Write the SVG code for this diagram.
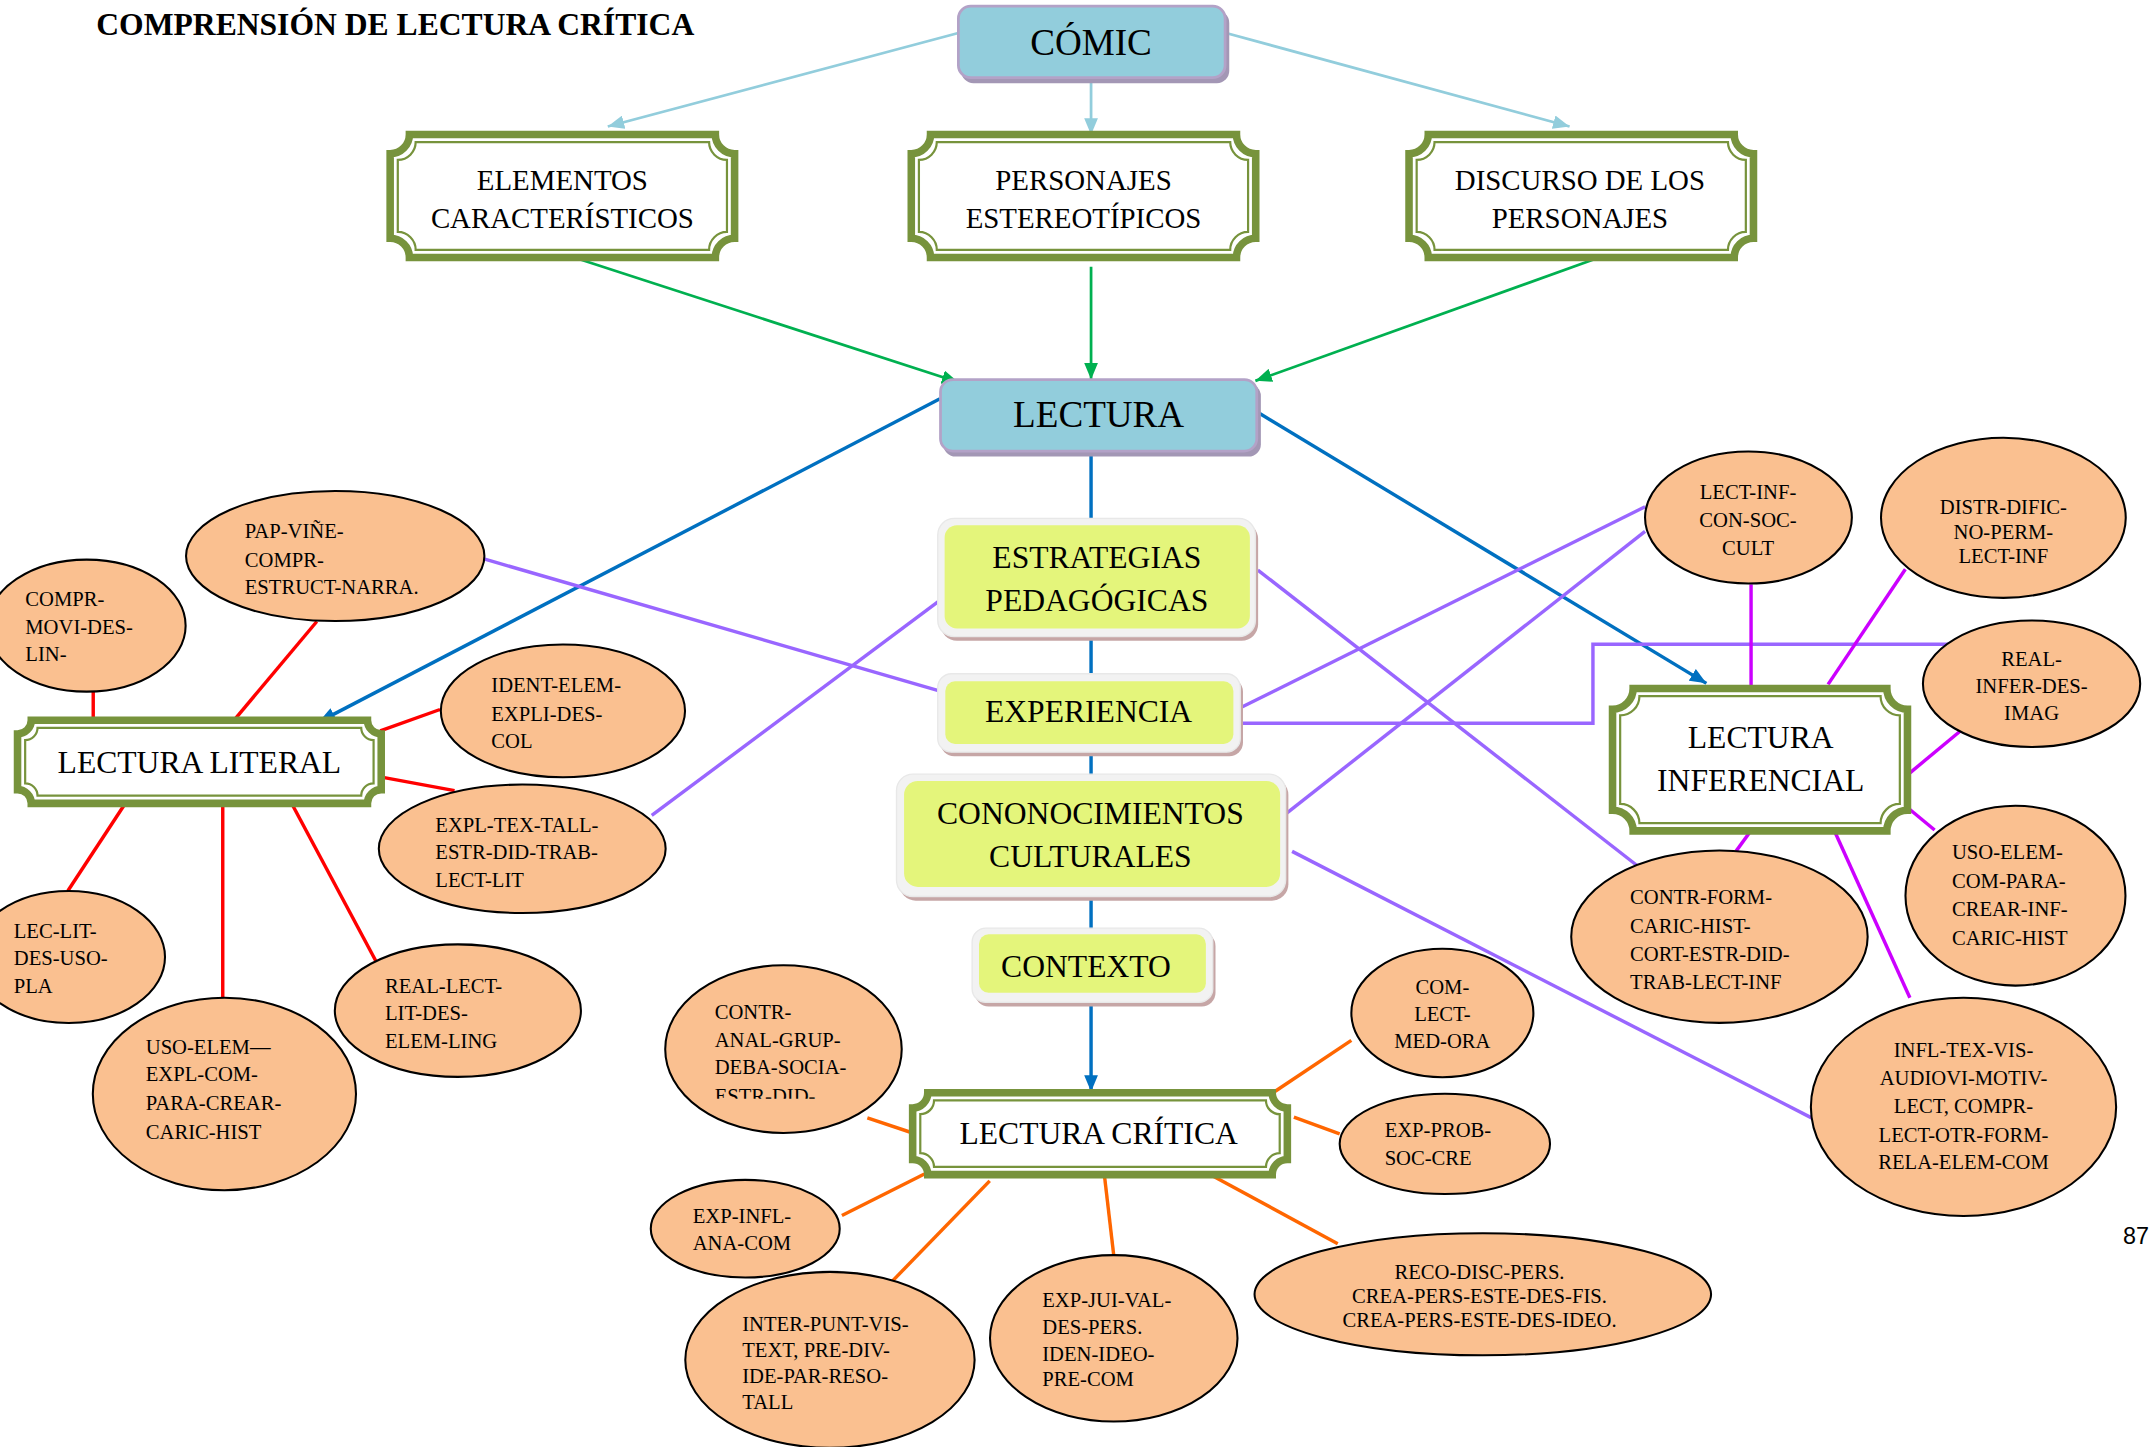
<svg xmlns="http://www.w3.org/2000/svg" width="2156" height="1447" viewBox="0 0 2156 1447">
<defs>
<style>
.t{font-family:"Liberation Serif","Times New Roman",serif;fill:#000}
.e{font-size:15px}
.m{text-anchor:middle}
.f27{font-size:27px}
.f21{font-size:21px}
.f23{font-size:23px}
.ell{fill:#FAC090;stroke:#000;stroke-width:1.5}
.band{fill:#fff;stroke:#77933C;stroke-width:5.5}
.thin{fill:none;stroke:#77933C;stroke-width:1.6}
.bbox{fill:#92CDDC;stroke:#B3A2C7;stroke-width:2}
.bsh{fill:#A397B5}
.ysh{fill:#C6A6A6}
.yrim{fill:#F2F2F2;stroke:#E8E8E8;stroke-width:1}
.yin{fill:#E4F57B}
.c{fill:none;stroke-width:2.5}
.lb{stroke:#92CDDC;stroke-width:2}
.gr{stroke:#00B050;stroke-width:2}
.bl{stroke:#0070C0}
.rd{stroke:#FF0000}
.pu{stroke:#9966FF}
.mg{stroke:#CC00FF}
.or{stroke:#FF6600}
</style>
<marker id="aLB" markerWidth="12" markerHeight="10" refX="12" refY="5" orient="auto" markerUnits="userSpaceOnUse"><path d="M0,0 L12,5 L0,10 z" fill="#92CDDC"/></marker>
<marker id="aG" markerWidth="12" markerHeight="10" refX="12" refY="5" orient="auto" markerUnits="userSpaceOnUse"><path d="M0,0 L12,5 L0,10 z" fill="#00B050"/></marker>
<marker id="aB" markerWidth="12" markerHeight="10" refX="12" refY="5" orient="auto" markerUnits="userSpaceOnUse"><path d="M0,0 L12,5 L0,10 z" fill="#0070C0"/></marker>
<clipPath id="clipCA"><rect x="480" y="700" width="180" height="99"/></clipPath>
</defs>
<rect x="0" y="0" width="2156" height="1447" fill="#fff"/>
<g transform="scale(1.375)">
<text class="t" x="70" y="25.5" font-size="23" font-weight="bold">COMPRENSIÓN DE LECTURA CRÍTICA</text>

<g id="connectors">
<path class="c lb" d="M697,24 L442,92" marker-end="url(#aLB)"/>
<path class="c lb" d="M793.5,58 L793.5,98" marker-end="url(#aLB)"/>
<path class="c lb" d="M891.6,24 L1141.5,92" marker-end="url(#aLB)"/>
<path class="c gr" d="M412,185.5 L697,278" marker-end="url(#aG)"/>
<path class="c gr" d="M793.5,194 L793.5,276" marker-end="url(#aG)"/>
<path class="c gr" d="M1168,185.5 L913,277" marker-end="url(#aG)"/>
<path class="c bl" d="M683.6,290 L232,525" marker-end="url(#aB)"/>
<path class="c bl" d="M915,300 L1241,497" marker-end="url(#aB)"/>
<path class="c bl" d="M793.5,328 V378"/>
<path class="c bl" d="M793.5,465 V493"/>
<path class="c bl" d="M793.5,547 V571"/>
<path class="c bl" d="M793.5,652 V677"/>
<path class="c bl" d="M793.5,728 V794" marker-end="url(#aB)"/>
<path class="c rd" d="M67.8,503 V529"/>
<path class="c rd" d="M230.4,452 L168.6,525.7"/>
<path class="c rd" d="M320,516 L276.5,531.6"/>
<path class="c rd" d="M330.6,575 L276.5,565"/>
<path class="c rd" d="M90,586 L49.4,647.8"/>
<path class="c rd" d="M162,586 V725.6"/>
<path class="c rd" d="M213,586 L275,702"/>
<path class="c pu" d="M352,406.5 L685,503"/>
<path class="c pu" d="M474,593 L685,435.6"/>
<path class="c pu" d="M914.8,414.6 L1196.4,634"/>
<path class="c pu" d="M901,515.3 L1196.4,368.6"/>
<path class="c pu" d="M901,526 H1158.5 V468.6 H1418"/>
<path class="c pu" d="M933.5,593.2 L1196.4,386.5"/>
<path class="c pu" d="M939.7,619.2 L1317.5,813"/>
<path class="c mg" d="M1273.5,425 V501.5"/>
<path class="c mg" d="M1385.7,414 L1329.5,497.7"/>
<path class="c mg" d="M1427.7,530 L1386,564.6"/>
<path class="c mg" d="M1385.7,586 L1407,603.6"/>
<path class="c mg" d="M1273.5,604 L1262.6,619"/>
<path class="c mg" d="M1334,604 L1389,725.6"/>
<path class="c or" d="M630.8,813 L663.8,824"/>
<path class="c or" d="M612.3,884 L672.3,853.8"/>
<path class="c or" d="M645.8,935 L719.8,858.8"/>
<path class="c or" d="M810,913 L803,853"/>
<path class="c or" d="M972.9,904.5 L877,852.5"/>
<path class="c or" d="M982.8,756.6 L925,795.3"/>
<path class="c or" d="M974.3,824.6 L941,812.4"/>
</g>

<g id="n-comic">
<rect class="bsh" x="699" y="7.5" width="195" height="53" rx="9"/>
<rect class="bbox" x="697" y="4.5" width="194" height="52" rx="9"/>
<text class="t m f27" x="793.5" y="40">CÓMIC</text>
</g>

<g id="n-elementos">
<path class="band" d="M297.75,97.75 h222.5 a14,14 0 0 0 14,14 v61.5 a14,14 0 0 0 -14,14 h-222.5 a14,14 0 0 0 -14,-14 v-61.5 a14,14 0 0 0 14,-14 z"/>
<path class="thin" d="M302.3,103.3 h213.4 a13,13 0 0 0 13,13 v52.4 a13,13 0 0 0 -13,13 h-213.4 a13,13 0 0 0 -13,-13 v-52.4 a13,13 0 0 0 13,-13 z"/>
<text class="t m f21" x="409" y="138.2">ELEMENTOS</text>
<text class="t m f21" x="409" y="165.6">CARACTERÍSTICOS</text>
</g>

<g id="n-personajes">
<path class="band" d="M676.75,97.75 h222.5 a14,14 0 0 0 14,14 v61.5 a14,14 0 0 0 -14,14 h-222.5 a14,14 0 0 0 -14,-14 v-61.5 a14,14 0 0 0 14,-14 z"/>
<path class="thin" d="M681.3,103.3 h213.4 a13,13 0 0 0 13,13 v52.4 a13,13 0 0 0 -13,13 h-213.4 a13,13 0 0 0 -13,-13 v-52.4 a13,13 0 0 0 13,-13 z"/>
<text class="t m f21" x="788" y="138.2">PERSONAJES</text>
<text class="t m f21" x="788" y="165.6">ESTEREOTÍPICOS</text>
</g>

<g id="n-discurso">
<path class="band" d="M1038.75,97.75 h222.5 a14,14 0 0 0 14,14 v61.5 a14,14 0 0 0 -14,14 h-222.5 a14,14 0 0 0 -14,-14 v-61.5 a14,14 0 0 0 14,-14 z"/>
<path class="thin" d="M1043.3,103.3 h213.4 a13,13 0 0 0 13,13 v52.4 a13,13 0 0 0 -13,13 h-213.4 a13,13 0 0 0 -13,-13 v-52.4 a13,13 0 0 0 13,-13 z"/>
<text class="t m f21" x="1149" y="138.2">DISCURSO DE LOS</text>
<text class="t m f21" x="1149" y="165.6">PERSONAJES</text>
</g>

<g id="n-lectura">
<rect class="bsh" x="686" y="279" width="231" height="53" rx="9"/>
<rect class="bbox" x="684" y="276" width="230" height="52" rx="9"/>
<text class="t m f27" x="799" y="310.3">LECTURA</text>
</g>

<g id="n-estrategias">
<rect class="ysh" x="684" y="380" width="231" height="86" rx="12"/>
<rect class="yrim" x="682" y="377" width="231" height="86" rx="12"/>
<rect class="yin" x="687" y="382" width="222" height="75" rx="9"/>
<text class="t m f23" x="797.7" y="413">ESTRATEGIAS</text>
<text class="t m f23" x="797.7" y="444.2">PEDAGÓGICAS</text>
</g>

<g id="n-experiencia">
<rect class="ysh" x="684" y="493" width="220" height="57" rx="10"/>
<rect class="yrim" x="682" y="490" width="220" height="57" rx="10"/>
<rect class="yin" x="687.5" y="495.5" width="209.5" height="45.5" rx="7"/>
<text class="t m f23" x="791.7" y="525.1">EXPERIENCIA</text>
</g>

<g id="n-conocimientos">
<rect class="ysh" x="654" y="566" width="283" height="89" rx="12"/>
<rect class="yrim" x="652" y="563" width="283" height="89" rx="12"/>
<rect class="yin" x="657.5" y="568" width="273.5" height="77" rx="10"/>
<text class="t m f23" x="793" y="599.3">CONONOCIMIENTOS</text>
<text class="t m f23" x="793" y="630.4">CULTURALES</text>
</g>

<g id="n-contexto">
<rect class="ysh" x="709" y="678" width="175" height="54" rx="10"/>
<rect class="yrim" x="707" y="675" width="175" height="54" rx="10"/>
<rect class="yin" x="712" y="679.5" width="165" height="42.5" rx="7"/>
<text class="t m f23" x="789.8" y="710.4">CONTEXTO</text>
</g>

<g id="n-literal">
<path class="band" d="M22.75,523.75 h244.5 a10,10 0 0 0 10,10 v40.5 a10,10 0 0 0 -10,10 h-244.5 a10,10 0 0 0 -10,-10 v-40.5 a10,10 0 0 0 10,-10 z"/>
<path class="thin" d="M27.3,529.3 h235.4 a9,9 0 0 0 9,9 v31.4 a9,9 0 0 0 -9,9 h-235.4 a9,9 0 0 0 -9,-9 v-31.4 a9,9 0 0 0 9,-9 z"/>
<text class="t m f23" x="145" y="562.1">LECTURA LITERAL</text>
</g>

<g id="n-inferencial">
<path class="band" d="M1187.75,500.75 h184.5 a15,15 0 0 0 15,15 v73.5 a15,15 0 0 0 -15,15 h-184.5 a15,15 0 0 0 -15,-15 v-73.5 a15,15 0 0 0 15,-15 z"/>
<path class="thin" d="M1192.3,506.3 h175.4 a14,14 0 0 0 14,14 v64.4 a14,14 0 0 0 -14,14 h-175.4 a14,14 0 0 0 -14,-14 v-64.4 a14,14 0 0 0 14,-14 z"/>
<text class="t m f23" x="1280.5" y="543.9">LECTURA</text>
<text class="t m f23" x="1280.5" y="575.6">INFERENCIAL</text>
</g>

<g id="n-critica">
<path class="band" d="M674.75,794.75 h250.5 a11,11 0 0 0 11,11 v37.5 a11,11 0 0 0 -11,11 h-250.5 a11,11 0 0 0 -11,-11 v-37.5 a11,11 0 0 0 11,-11 z"/>
<path class="thin" d="M679.3,800.3 h241.4 a10,10 0 0 0 10,10 v28.4 a10,10 0 0 0 -10,10 h-241.4 a10,10 0 0 0 -10,-10 v-28.4 a10,10 0 0 0 10,-10 z"/>
<text class="t m f23" x="799" y="832">LECTURA CRÍTICA</text>
</g>

<g id="e-compr">
<ellipse class="ell" cx="63" cy="455" rx="72" ry="48"/>
<text class="t e" x="18.4" y="441">COMPR-</text>
<text class="t e" x="18.4" y="461">MOVI-DES-</text>
<text class="t e" x="18.4" y="481">LIN-</text>
</g>
<g id="e-pap">
<ellipse class="ell" cx="243.8" cy="404.4" rx="108.5" ry="47.3"/>
<text class="t e" x="178" y="391.3">PAP-VIÑE-</text>
<text class="t e" x="178" y="412.2">COMPR-</text>
<text class="t e" x="178" y="431.7">ESTRUCT-NARRA.</text>
</g>
<g id="e-ident">
<ellipse class="ell" cx="409.4" cy="517" rx="88.8" ry="48.3"/>
<text class="t e" x="357.3" y="503">IDENT-ELEM-</text>
<text class="t e" x="357.3" y="524">EXPLI-DES-</text>
<text class="t e" x="357.3" y="544">COL</text>
</g>
<g id="e-expltex">
<ellipse class="ell" cx="379.8" cy="617.3" rx="104.3" ry="46.7"/>
<text class="t e" x="316.6" y="605">EXPL-TEX-TALL-</text>
<text class="t e" x="316.6" y="625">ESTR-DID-TRAB-</text>
<text class="t e" x="316.6" y="645">LECT-LIT</text>
</g>
<g id="e-leclit">
<ellipse class="ell" cx="50" cy="696" rx="70" ry="48"/>
<text class="t e" x="10" y="682">LEC-LIT-</text>
<text class="t e" x="10" y="702">DES-USO-</text>
<text class="t e" x="10" y="722">PLA</text>
</g>
<g id="e-usoelem">
<ellipse class="ell" cx="163.2" cy="795.6" rx="95.7" ry="70"/>
<text class="t e" x="106" y="766.2">USO-ELEM—</text>
<text class="t e" x="106" y="786.5">EXPL-COM-</text>
<text class="t e" x="106" y="807.5">PARA-CREAR-</text>
<text class="t e" x="106" y="828.4">CARIC-HIST</text>
</g>
<g id="e-reallect">
<ellipse class="ell" cx="333" cy="735" rx="89.5" ry="48.2"/>
<text class="t e" x="280" y="722">REAL-LECT-</text>
<text class="t e" x="280" y="742">LIT-DES-</text>
<text class="t e" x="280" y="762.4">ELEM-LING</text>
</g>
<g id="e-lectinf">
<ellipse class="ell" cx="1271.6" cy="376.4" rx="75.2" ry="48"/>
<text class="t e m" x="1271.3" y="362.6">LECT-INF-</text>
<text class="t e m" x="1271.3" y="383.3">CON-SOC-</text>
<text class="t e m" x="1271.3" y="403.6">CULT</text>
</g>
<g id="e-distr">
<ellipse class="ell" cx="1457" cy="376.6" rx="89" ry="58.2"/>
<text class="t e m" x="1457" y="373.5">DISTR-DIFIC-</text>
<text class="t e m" x="1457" y="391.7">NO-PERM-</text>
<text class="t e m" x="1457" y="409.4">LECT-INF</text>
</g>
<g id="e-realinfer">
<ellipse class="ell" cx="1477.5" cy="497.3" rx="79" ry="46"/>
<text class="t e m" x="1477.5" y="484.7">REAL-</text>
<text class="t e m" x="1477.5" y="504.1">INFER-DES-</text>
<text class="t e m" x="1477.5" y="523.6">IMAG</text>
</g>
<g id="e-usoelemcom">
<ellipse class="ell" cx="1465.8" cy="651.4" rx="80" ry="65.4"/>
<text class="t e" x="1419.6" y="625">USO-ELEM-</text>
<text class="t e" x="1419.6" y="645.7">COM-PARA-</text>
<text class="t e" x="1419.6" y="666.5">CREAR-INF-</text>
<text class="t e" x="1419.6" y="687.3">CARIC-HIST</text>
</g>
<g id="e-contrform">
<ellipse class="ell" cx="1250.5" cy="681.2" rx="107.8" ry="62.7"/>
<text class="t e" x="1185.5" y="657.5">CONTR-FORM-</text>
<text class="t e" x="1185.5" y="678.2">CARIC-HIST-</text>
<text class="t e" x="1185.5" y="698.9">CORT-ESTR-DID-</text>
<text class="t e" x="1185.5" y="719.6">TRAB-LECT-INF</text>
</g>
<g id="e-infltex">
<ellipse class="ell" cx="1428" cy="805" rx="111" ry="79.3"/>
<text class="t e m" x="1428" y="768.7">INFL-TEX-VIS-</text>
<text class="t e m" x="1428" y="789">AUDIOVI-MOTIV-</text>
<text class="t e m" x="1428" y="809.8">LECT, COMPR-</text>
<text class="t e m" x="1428" y="830.2">LECT-OTR-FORM-</text>
<text class="t e m" x="1428" y="850.5">RELA-ELEM-COM</text>
</g>
<g id="e-contranal">
<ellipse class="ell" cx="569.8" cy="763" rx="86" ry="61"/>
<g clip-path="url(#clipCA)">
<text class="t e" x="519.8" y="740.8">CONTR-</text>
<text class="t e" x="519.8" y="761.1">ANAL-GRUP-</text>
<text class="t e" x="519.8" y="781.4">DEBA-SOCIA-</text>
<text class="t e" x="519.8" y="802">ESTR-DID-</text>
</g>
</g>
<g id="e-expinfl">
<ellipse class="ell" cx="542" cy="893.6" rx="68.7" ry="35.5"/>
<text class="t e" x="503.8" y="889.2">EXP-INFL-</text>
<text class="t e" x="503.8" y="909">ANA-COM</text>
</g>
<g id="e-interpunt">
<ellipse class="ell" cx="603.6" cy="989" rx="105.2" ry="64"/>
<text class="t e" x="539.8" y="967.9">INTER-PUNT-VIS-</text>
<text class="t e" x="539.8" y="986.9">TEXT, PRE-DIV-</text>
<text class="t e" x="539.8" y="1006">IDE-PAR-RESO-</text>
<text class="t e" x="539.8" y="1025">TALL</text>
</g>
<g id="e-expjui">
<ellipse class="ell" cx="810" cy="973.3" rx="90" ry="60.5"/>
<text class="t e" x="758" y="950.2">EXP-JUI-VAL-</text>
<text class="t e" x="758" y="970">DES-PERS.</text>
<text class="t e" x="758" y="989.5">IDEN-IDEO-</text>
<text class="t e" x="758" y="1008">PRE-COM</text>
</g>
<g id="e-reco">
<ellipse class="ell" cx="1078.4" cy="941.3" rx="166" ry="44.4"/>
<text class="t e m" x="1076" y="929.9">RECO-DISC-PERS.</text>
<text class="t e m" x="1076" y="947.7">CREA-PERS-ESTE-DES-FIS.</text>
<text class="t e m" x="1076" y="965.4">CREA-PERS-ESTE-DES-IDEO.</text>
</g>
<g id="e-comlect">
<ellipse class="ell" cx="1049" cy="736.7" rx="66.2" ry="46.7"/>
<text class="t e m" x="1049" y="723">COM-</text>
<text class="t e m" x="1049" y="742.8">LECT-</text>
<text class="t e m" x="1049" y="761.9">MED-ORA</text>
</g>
<g id="e-expprob">
<ellipse class="ell" cx="1050.8" cy="831.9" rx="76.5" ry="36.5"/>
<text class="t e" x="1007" y="826.6">EXP-PROB-</text>
<text class="t e" x="1007" y="847.4">SOC-CRE</text>
</g>

<text x="1544" y="904.5" font-family="'Liberation Sans',Arial,sans-serif" font-size="17">87</text>
</g>
</svg>
